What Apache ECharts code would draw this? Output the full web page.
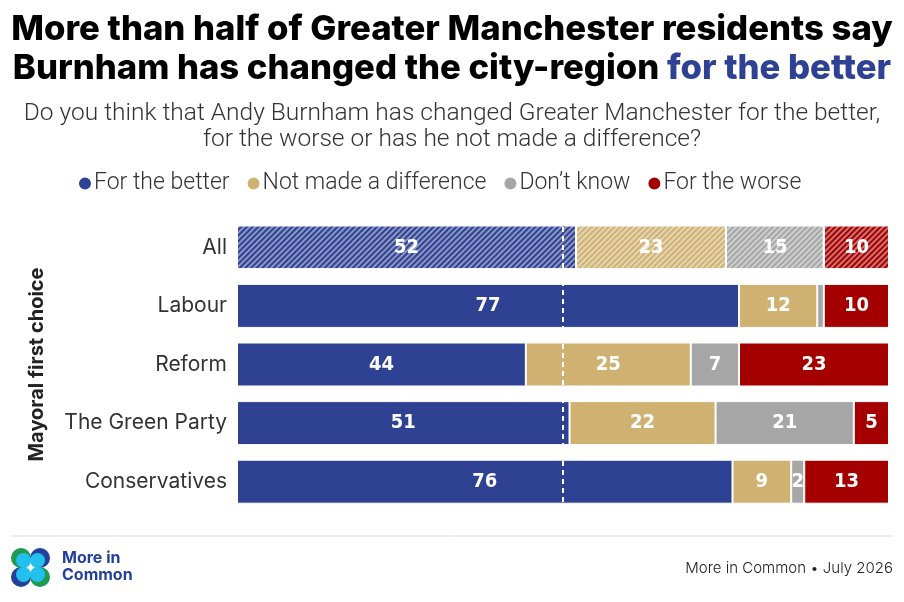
<!DOCTYPE html>
<html>
<head>
<meta charset="utf-8">
<script src="https://cdn.jsdelivr.net/npm/echarts@6/dist/echarts.min.js"></script>
<style>
  html, body { margin: 0; padding: 0; background: #fff; }
  #chart { width: 904px; height: 602px; }
</style>
</head>
<body>
<div id="chart"></div>
<script>
var categories = ['All', 'Labour', 'Reform', 'The Green Party', 'Conservatives'];
var seriesNames = ['For the better', 'Not made a difference', 'Don\u2019t know', 'For the worse'];
var forBetter = [52, 77, 44.3, 51.0, 76];
var notMade = [23, 12, 25.3, 22.4, 9];
var dontKnow = [15, 1, 7.4, 21.2, 2];
var forWorse = [10, 10, 23, 5.4, 13];
var colors = ['#2e4193', '#cfb272', '#a6a6a6', '#a50000'];

var FONT = 'Inter, "Noto Sans", sans-serif';
var NARROW = 'Roboto, "Noto Sans", sans-serif';
var LABELFONT = '"Liberation Sans Narrow", "DejaVu Sans Condensed", Roboto, sans-serif';

var hatch = {
    symbol: 'rect',
    symbolSize: 1,
    dashArrayX: [1, 0],
    dashArrayY: [2, 2],
    rotation: -Math.PI / 4,
    color: 'rgba(255,255,255,0.45)'
};

function makeSeries(name, values, color, idx) {
    var s = {
        name: name,
        type: 'bar',
        stack: 'total',
        barWidth: 44,
        itemStyle: { color: color, borderColor: '#fff', borderWidth: 1 },
        label: {
            show: true,
            position: 'inside',
            color: '#fff',
            fontFamily: LABELFONT,
            fontWeight: 'bold',
            fontSize: 20,
            formatter: function(p) { return p.value < 1.5 ? '' : Math.round(p.value); }
        },
        data: values.map(function(v, i) {
            return i === 0 ? { value: v, itemStyle: { decal: hatch } } : v;
        })
    };
    if (idx === 3) {
        s.markLine = {
            silent: true,
            symbol: 'none',
            label: { show: false },
            lineStyle: { color: '#fff', type: [5, 4], width: 2 },
            data: [{ xAxis: 50 }]
        };
    }
    return s;
}

var chart = echarts.init(document.getElementById('chart'));

var option = {
    animation: false,
    color: colors,
    title: [
        {
            text: 'More than half of Greater Manchester residents say',
            left: 'center', top: 7,
            textStyle: { fontFamily: FONT, fontWeight: 800, fontSize: 34.7, color: '#000' }
        },
        {
            text: '{a|Burnham has changed the city-region }{b|for the better}',
            left: 'center', top: 46,
            textStyle: {
                rich: {
                    a: { fontFamily: FONT, fontWeight: 800, fontSize: 34.7, color: '#000' },
                    b: { fontFamily: FONT, fontWeight: 800, fontSize: 34.7, color: '#2e4193' }
                }
            }
        },
        {
            text: 'Do you think that Andy Burnham has changed Greater Manchester for the better,',
            left: 'center', top: 96,
            textStyle: { fontFamily: NARROW, fontWeight: 300, fontSize: 24.5, color: '#333' }
        },
        {
            text: 'for the worse or has he not made a difference?',
            left: 'center', top: 122,
            textStyle: { fontFamily: NARROW, fontWeight: 300, fontSize: 24.5, color: '#333' }
        }
    ],
    legend: {
        top: 167,
        left: 72,
        icon: 'circle',
        itemWidth: 14,
        itemHeight: 14,
        itemGap: 16,
        textStyle: { fontFamily: NARROW, fontWeight: 300, fontSize: 23, color: '#333', padding: [0, 0, 0, -3] },
        data: seriesNames
    },
    grid: { left: 237, right: 15, top: 218, bottom: 91 },
    xAxis: { type: 'value', min: 0, max: 100, show: false },
    yAxis: {
        type: 'category',
        inverse: true,
        data: categories,
        name: 'Mayoral first choice',
        nameLocation: 'middle',
        nameRotate: 90,
        nameGap: 190,
        nameTextStyle: { fontFamily: FONT, fontWeight: 'bold', fontSize: 20, color: '#222' },
        axisLine: { show: false },
        axisTick: { show: false },
        axisLabel: { fontFamily: FONT, fontSize: 21, color: '#333', margin: 10 }
    },
    series: [
        makeSeries(seriesNames[0], forBetter, colors[0], 0),
        makeSeries(seriesNames[1], notMade, colors[1], 1),
        makeSeries(seriesNames[2], dontKnow, colors[2], 2),
        makeSeries(seriesNames[3], forWorse, colors[3], 3)
    ],
    graphic: [
        { type: 'line', shape: { x1: 10, y1: 536, x2: 893, y2: 536 }, style: { stroke: '#dddddd', lineWidth: 1 } },
        { type: 'circle', shape: { cx: 21, cy: 558, r: 10 }, style: { fill: '#1e9a52' } },
        { type: 'circle', shape: { cx: 40, cy: 558, r: 10 }, style: { fill: '#23409a' } },
        { type: 'circle', shape: { cx: 21, cy: 577, r: 10 }, style: { fill: '#23409a' } },
        { type: 'circle', shape: { cx: 40, cy: 577, r: 10 }, style: { fill: '#1e9a52' } },
        { type: 'circle', shape: { cx: 23.5, cy: 560.5, r: 7.5 }, style: { fill: '#22c0ec' } },
        { type: 'circle', shape: { cx: 37.5, cy: 560.5, r: 7.5 }, style: { fill: '#22c0ec' } },
        { type: 'circle', shape: { cx: 23.5, cy: 574.5, r: 7.5 }, style: { fill: '#22c0ec' } },
        { type: 'circle', shape: { cx: 37.5, cy: 574.5, r: 7.5 }, style: { fill: '#22c0ec' } },
        {
            type: 'text', left: 62, top: 550,
            style: { text: 'More in\nCommon', fontFamily: FONT, fontWeight: 'bold', fontSize: 16, lineHeight: 17, fill: '#23409a' }
        },
        {
            type: 'text', right: 11, top: 561,
            style: { text: 'More in Common \u2022 July 2026', fontFamily: FONT, fontWeight: 300, fontSize: 15, fill: '#222' }
        }
    ]
};

chart.setOption(option);
</script>
</body>
</html>
